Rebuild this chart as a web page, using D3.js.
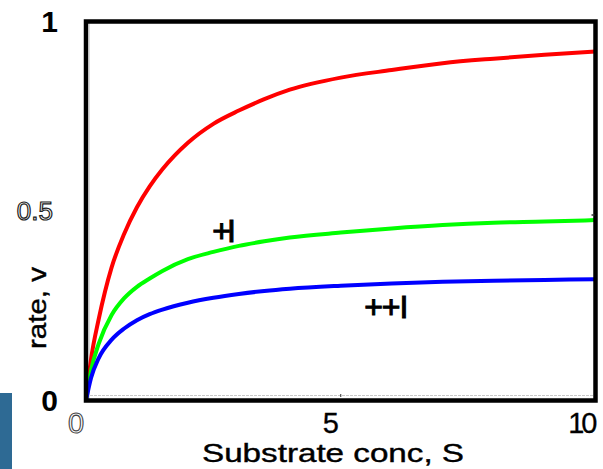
<!DOCTYPE html>
<html><head><meta charset="utf-8">
<script src="https://cdn.jsdelivr.net/npm/d3@7"></script>
<style>html,body{margin:0;padding:0;background:#fff;}svg{display:block;}</style>
</head><body>
<svg id="c" width="603" height="469"></svg>
<script>
// ---- data ----
const substrate = [0, 0.1, 0.25, 0.5, 0.75, 1, 1.25, 1.5, 2, 2.5, 3, 3.5, 4, 5, 6, 7, 8, 9, 10];
const rateNoInhibitor = [0, 0.11, 0.215, 0.35, 0.44, 0.51, 0.565, 0.61, 0.68, 0.73, 0.765, 0.795, 0.82, 0.852, 0.872, 0.89, 0.902, 0.912, 0.921];
const rateInhibitor = [0, 0.08, 0.15, 0.225, 0.27, 0.3, 0.322, 0.342, 0.373, 0.392, 0.408, 0.42, 0.43, 0.443, 0.454, 0.463, 0.469, 0.472, 0.476];
const rateDoubleInhibitor = [0, 0.06, 0.112, 0.16, 0.19, 0.212, 0.228, 0.24, 0.258, 0.271, 0.281, 0.289, 0.295, 0.303, 0.309, 0.313, 0.316, 0.318, 0.32];
const seriesNames = ["no inhibitor", "+I", "++I"];
const seriesColors = ["#ff0000", "#00ff00", "#0000ff"];
const xTickValues = [0, 5, 10];
const xTickLabels = ["0", "5", "10"];
const yTickValues = [0, 0.5, 1];
const yTickLabels = ["0", "0.5", "1"];
const annotationLabels = ["+I", "++I"];
const annotationS = [2.48, 5.46];
const annotationV = [0.417, 0.217];

// ---- drawing ----
const svg = d3.select("#c");
const x = d3.scaleLinear().domain([0, 10]).range([86, 595.5]);
const y = d3.scaleLinear().domain([0, 1]).range([400.5, 21.5]);

// left blue strip
svg.append("rect").attr("x", 0).attr("y", 393).attr("width", 12).attr("height", 76).attr("fill", "#2e6a94");

// faint dashed line just above bottom axis
svg.append("line").attr("x1", x(0)).attr("x2", x(10)).attr("y1", 395.5).attr("y2", 395.5)
  .attr("stroke", "#c8c8c8").attr("stroke-width", 1).attr("stroke-dasharray", "3,1");
svg.append("line").attr("x1", 89.5).attr("x2", 89.5).attr("y1", y(1)).attr("y2", y(0))
  .attr("stroke", "#dddddd").attr("stroke-width", 1);

// curves
const rates = [rateNoInhibitor, rateInhibitor, rateDoubleInhibitor];
const line = d3.line().x(d => x(d[0])).y(d => y(d[1])).curve(d3.curveMonotoneX);
rates.forEach((r, i) => {
  svg.append("path")
    .datum(substrate.map((s, j) => [s, r[j]]))
    .attr("d", line)
    .attr("fill", "none")
    .attr("stroke", seriesColors[i])
    .attr("stroke-width", 4)
    .attr("stroke-linejoin", "round")
    .attr("stroke-linecap", "butt")
    .attr("aria-label", seriesNames[i]);
});

// frame
svg.append("rect")
  .attr("x", x(0)).attr("y", y(1))
  .attr("width", x(10) - x(0)).attr("height", y(0) - y(1))
  .attr("fill", "none").attr("stroke", "#000").attr("stroke-width", 4.5);

// tiny ticks
svg.append("line").attr("x1", x(5)).attr("x2", x(5)).attr("y1", 397).attr("y2", 394).attr("stroke", "#333").attr("stroke-width", 1);
svg.append("line").attr("x1", x(10) - 4).attr("x2", x(10) - 1).attr("y1", y(0.5) + 4).attr("y2", y(0.5) + 4).attr("stroke", "#333").attr("stroke-width", 1.5);

const font = "'Liberation Sans', Arial, Helvetica, sans-serif";

// x tick labels
xTickValues.forEach((v, i) => {
  const last = i === xTickValues.length - 1;
  const t = svg.append("text")
    .attr("x", last ? x(v) - 1 : x(v) - 10)
    .attr("y", 433)
    .attr("text-anchor", last ? "end" : "middle")
    .attr("font-family", font)
    .attr("font-size", 29)
    .attr("letter-spacing", last ? -3 : 0)
    .text(xTickLabels[i]);
  if (i === 0) t.attr("fill", "#fff").attr("stroke", "#444").attr("stroke-width", 1.1);
  else t.attr("fill", "#000").attr("stroke", "#000").attr("stroke-width", 0.3);
});

// y tick labels
yTickValues.forEach((v, i) => {
  const t = svg.append("text")
    .attr("x", v === 0.5 ? 53 : 58)
    .attr("y", y(v))
    .attr("dy", "0.36em")
    .attr("text-anchor", "end")
    .attr("font-family", font)
    .text(yTickLabels[i]);
  if (v === 0.5) t.attr("font-size", 26).attr("fill", "#fff").attr("stroke", "#222").attr("stroke-width", 1.2);
  else t.attr("font-size", 30).attr("font-weight", "bold").attr("fill", "#000");
});

// axis titles
svg.append("text")
  .attr("x", 333).attr("y", 462)
  .attr("text-anchor", "middle")
  .attr("font-family", font).attr("font-size", 25)
  .attr("stroke", "#000").attr("stroke-width", 0.4)
  .attr("textLength", 262).attr("lengthAdjust", "spacingAndGlyphs")
  .text("Substrate conc, S");
svg.append("text")
  .attr("transform", "translate(46,308) rotate(-90)")
  .attr("text-anchor", "middle")
  .attr("font-family", font).attr("font-size", 26)
  .attr("stroke", "#000").attr("stroke-width", 0.4)
  .attr("textLength", 82).attr("lengthAdjust", "spacingAndGlyphs")
  .text("rate, v");

// annotations
annotationLabels.forEach((lab, i) => {
  svg.append("text")
    .attr("x", x(annotationS[i])).attr("y", y(annotationV[i]))
    .attr("font-family", font).attr("font-size", 32)
    .attr("stroke", "#000").attr("stroke-width", 1)
    .attr("letter-spacing", i === 0 ? -4 : -1)
    .attr("fill", "#000")
    .text(lab);
});
</script>
</body></html>
